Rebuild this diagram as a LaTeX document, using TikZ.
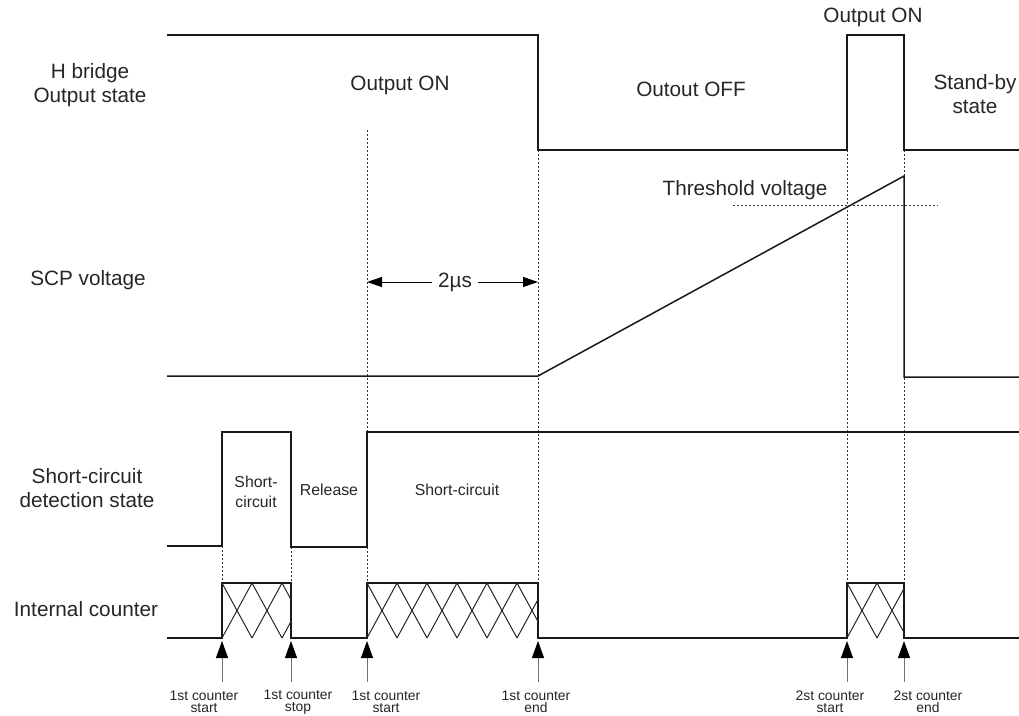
\documentclass[tikz,border=0pt]{standalone}
\usepackage{fontspec}
\setmainfont{Liberation Sans}
\usetikzlibrary{arrows.meta}

\tikzset{
	sig/.style={line width=0.3mm, black!90},
	guide/.style={line width=0.2mm, dash pattern=on 0.4mm off 0.4mm, black!80},
	hatch/.style={line width=0.2mm, black!85},
	lbl/.style={font=\fontsize{11.8}{13.6}\selectfont, align=center, text=black!85},
	boxlbl/.style={font=\fontsize{9}{11.3}\selectfont, align=center, text=black!85},
	evt/.style={font=\fontsize{7.9}{7}\selectfont, align=center, inner sep=0pt, text=black!85},
	evtarrow/.style={line width=0.2mm, black!55, -{Triangle[length=3.4mm,width=2.4mm,black]}},
	dimarrow/.style={line width=0.2mm, black, -{Triangle[length=3mm,width=2mm]}},
}

% crossed hatch of the internal counter, between two x positions
\newcommand{\cnthatch}[2]{%
	\begin{scope}
		\clip (#1,583) rectangle (#2,638);
		\foreach \k in {0,...,6} {
			\draw[hatch] ({#1+30*\k},583) -- ({#1+30*(\k+1)},638);
			\draw[hatch] ({#1+30*\k},638) -- ({#1+30*(\k+1)},583);
		}
	\end{scope}}

\begin{document}
\begin{tikzpicture}[x=0.2mm, y=-0.2mm]
	\useasboundingbox (0,0) rectangle (1019,715);
	
	%guides
	\draw[guide] (222,546)--(222,583);
	\draw[guide] (291,547)--(291,583);
	\draw[guide] (367,130)--(367,432);
	\draw[guide] (367,547)--(367,583);
	\draw[guide] (538,150)--(538,583);
	\draw[guide] (847,150)--(847,583);
	\draw[guide] (904,150)--(904,583);
	\draw[guide] (733,205)--(938,205);		%threshold
	
	%signals
	\draw[sig] (167,35)--(538,35)--(538,150)--(847,150)--(847,35)--(904,35)--(904,150)--(1019,150);	%H bridge
	\draw[sig] (167,376)--(538,376)--(904,176)--(904,377)--(1019,377);	%SCP
	\draw[sig] (167,546)--(222,546)--(222,432)--(291,432)--(291,547)--(367,547)--(367,432)--(1019,432);	%detection
	\draw[sig] (167,638)--(222,638)--(222,583)--(291,583)--(291,638)--(367,638)--(367,583)--(538,583)--(538,638)
		--(847,638)--(847,583)--(904,583)--(904,638)--(1019,638);	%counter
	
	%hatch
	\cnthatch{222}{291}
	\cnthatch{367}{538}
	\cnthatch{847}{904}
	
	%labels
	\node[lbl] (hbLbl)  at (90,85)   {H bridge\\Output state};
	\node[lbl] (scpLbl) at (88,280)  {SCP voltage};
	\node[lbl] (scdLbl) at (87,488)  {Short-circuit\\detection state};
	\node[lbl] (icLbl)  at (86,609)  {Internal counter};
	%
	\node[lbl] (onLbl)    at (400,85)  {Output ON};
	\node[lbl] (offLbl)   at (691,89)  {Outout OFF};
	\node[lbl] (onTopLbl) at (873,17)  {Output ON};
	\node[lbl] (sbyLbl)   at (975,94)  {Stand-by\\state};
	\node[lbl] (thrLbl)   at (745,190) {Threshold voltage};
	%
	\node[boxlbl] (scBoxLbl) at (256,492) {Short-\\circuit};
	\node[boxlbl] (relLbl)   at (329,490) {Release};
	\node[boxlbl] (scLbl)    at (457,490) {Short-circuit};
	
	%2us
	\coordinate (dimL) at (367,282);
	\coordinate (dimR) at (538,282);
	\node[lbl] (usLbl) at (455,282) {2µs};
	\draw[dimarrow] (usLbl.west)--(dimL);
	\draw[dimarrow] (usLbl.east)--(dimR);
	
	%events
	\foreach \x/\lx/\txt [count=\i] in {222/204/{1st counter\\start}, 291/298/{1st counter\\stop},
		367/386/{1st counter\\start}, 538/536/{1st counter\\end}, 847/830/{2st counter\\start}, 904/928/{2st counter\\end}} {
		\coordinate (tip\i) at (\x,641);
		\coordinate (tail\i) at (\x,682);
		\node[evt] (ev\i) at (\lx,702) {\txt};
		\draw[evtarrow] (tail\i)--(tip\i);
	}
\end{tikzpicture}
\end{document}
